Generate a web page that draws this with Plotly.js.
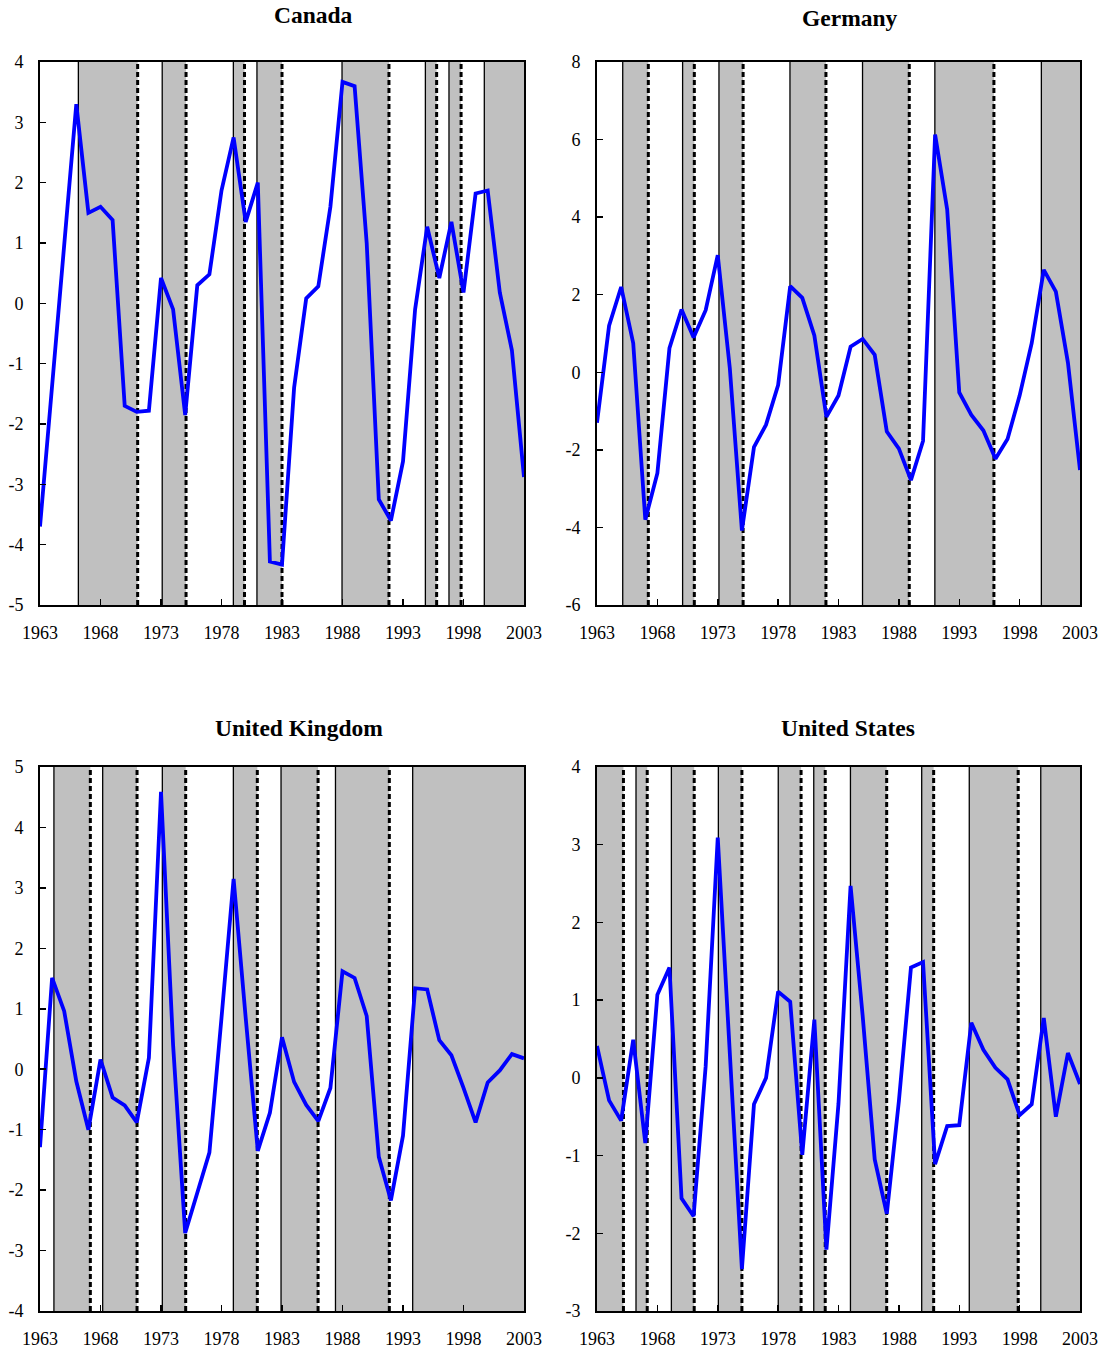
<!DOCTYPE html>
<html>
<head>
<meta charset="utf-8">
<script src="https://cdn.plot.ly/plotly-3.0.1.min.js"></script>
<style>html,body{margin:0;padding:0;background:#fff;}#chart{width:1104px;height:1352px;}</style>
</head>
<body>
<div id="chart"></div>
<script>
const years = [];
for (let y = 1963; y <= 2003; y++) years.push(y);
const xTicks = [1963, 1968, 1973, 1978, 1983, 1988, 1993, 1998, 2003];

const canadaValues = [-3.7, -1.4, 1.0, 3.3, 1.5, 1.6, 1.38, -1.7, -1.8, -1.78, 0.42, -0.1, -1.85, 0.3, 0.48, 1.87, 2.75, 1.35, 2.0, -4.28, -4.33, -1.4, 0.08, 0.28, 1.6, 3.67, 3.6, 1.0, -3.25, -3.6, -2.62, -0.1, 1.27, 0.42, 1.35, 0.18, 1.82, 1.87, 0.18, -0.78, -2.88];
const germanyValues = [-1.3, 1.2, 2.2, 0.75, -3.8, -2.6, 0.62, 1.62, 0.9, 1.6, 3.02, 0.1, -4.08, -1.93, -1.35, -0.33, 2.22, 1.92, 0.95, -1.15, -0.6, 0.66, 0.86, 0.45, -1.53, -1.97, -2.78, -1.77, 6.13, 4.2, -0.52, -1.1, -1.5, -2.23, -1.72, -0.6, 0.75, 2.64, 2.08, 0.25, -2.52];
const ukValues = [-1.29, 1.51, 0.96, -0.2, -1.0, 0.16, -0.47, -0.6, -0.88, 0.19, 4.59, 0.4, -2.71, -2.05, -1.38, 0.85, 3.15, 0.85, -1.35, -0.72, 0.53, -0.21, -0.59, -0.86, -0.31, 1.62, 1.51, 0.88, -1.45, -2.17, -1.1, 1.34, 1.32, 0.48, 0.23, -0.31, -0.88, -0.22, -0.02, 0.25, 0.18];
const usValues = [0.41, -0.29, -0.55, 0.49, -0.84, 1.07, 1.42, -1.55, -1.78, 0.15, 3.09, 0.4, -2.46, -0.34, 0.0, 1.11, 0.98, -0.99, 0.75, -2.21, -0.33, 2.47, 0.8, -1.05, -1.75, -0.3, 1.42, 1.49, -1.11, -0.62, -0.61, 0.71, 0.36, 0.13, -0.02, -0.48, -0.34, 0.77, -0.5, 0.32, -0.08];

// Shaded phases: from peak (solid line) to trough (dashed line); null = edge of chart
const canadaPeaks   = [1966.17, 1973.1, 1978.98, 1980.93, 1987.96, 1994.85, 1996.8, 1999.72];
const canadaTroughs = [1971.07, 1975.07, 1979.9, 1983.0, 1991.84, 1995.78, 1997.8, null];
const germanyPeaks   = [1965.13, 1970.09, 1973.1, 1978.98, 1984.99, 1990.98, 1999.8];
const germanyTroughs = [1967.25, 1971.06, 1975.1, 1981.96, 1988.86, 1995.87, null];
const ukPeaks   = [1964.15, 1968.18, 1973.11, 1978.98, 1982.92, 1987.42, 1993.8];
const ukTroughs = [1967.16, 1971.02, 1975.04, 1980.96, 1985.98, 1991.87, null];
const usPeaks   = [null, 1966.23, 1969.16, 1973.05, 1978.01, 1980.95, 1983.99, 1989.89, 1993.83, 1999.75];
const usTroughs = [1965.19, 1967.16, 1971.05, 1975.0, 1979.9, 1981.9, 1986.99, 1990.88, 1997.88, null];

const titles = ['Canada', 'Germany', 'United Kingdom', 'United States'];
const canadaYTicks = [-5, -4, -3, -2, -1, 0, 1, 2, 3, 4];
const germanyYTicks = [-6, -4, -2, 0, 2, 4, 6, 8];
const ukYTicks = [-4, -3, -2, -1, 0, 1, 2, 3, 4, 5];
const usYTicks = [-3, -2, -1, 0, 1, 2, 3, 4];

const W = 1104, H = 1352;
const panels = [
  {vals: canadaValues, peaks: canadaPeaks, troughs: canadaTroughs, yt: canadaYTicks, l: 40, r: 524, t: 62, b: 605, tx: 313, ty: 15},
  {vals: germanyValues, peaks: germanyPeaks, troughs: germanyTroughs, yt: germanyYTicks, l: 597, r: 1080, t: 62, b: 605, tx: 850, ty: 18},
  {vals: ukValues, peaks: ukPeaks, troughs: ukTroughs, yt: ukYTicks, l: 40, r: 524, t: 767, b: 1311, tx: 299, ty: 728},
  {vals: usValues, peaks: usPeaks, troughs: usTroughs, yt: usYTicks, l: 597, r: 1080, t: 767, b: 1311, tx: 848, ty: 728}
];

const font = {family: '"Liberation Serif", "Times New Roman", serif', size: 18, color: '#000'};
const data = [];
const shapes = [];
const annotations = [];
const layout = {
  width: W, height: H,
  margin: {l: 0, r: 0, t: 0, b: 0},
  paper_bgcolor: '#fff', plot_bgcolor: '#fff',
  showlegend: false,
  font: font
};

panels.forEach((p, i) => {
  const n = i + 1;
  const xa = 'x' + (n === 1 ? '' : n);
  const ya = 'y' + (n === 1 ? '' : n);
  const xKey = 'xaxis' + (n === 1 ? '' : n);
  const yKey = 'yaxis' + (n === 1 ? '' : n);
  layout[xKey] = {
    domain: [p.l / W, p.r / W], anchor: ya, range: [1963, 2003],
    tickmode: 'array', tickvals: xTicks, ticktext: xTicks.map(String),
    ticks: 'inside', ticklen: 6, tickwidth: 1.5, tickcolor: '#000',
    showline: true, linecolor: '#000', linewidth: 2, mirror: true,
    showgrid: false, zeroline: false, ticklabelstandoff: 10,
    tickfont: font, fixedrange: true
  };
  layout[yKey] = {
    domain: [1 - p.b / H, 1 - p.t / H], anchor: xa,
    range: [p.yt[0], p.yt[p.yt.length - 1]],
    tickmode: 'array', tickvals: p.yt, ticktext: p.yt.map(v => String(v)),
    ticks: 'inside', ticklen: 6, tickwidth: 1.5, tickcolor: '#000',
    showline: true, linecolor: '#000', linewidth: 2, mirror: true,
    showgrid: false, zeroline: false, ticklabelstandoff: 11,
    tickfont: font, fixedrange: true
  };
  // shaded bands
  p.peaks.forEach((pk, k) => {
    const x0 = pk === null ? 1963 : pk;
    const x1 = p.troughs[k] === null ? 2003 : p.troughs[k];
    shapes.push({type: 'rect', xref: xa, yref: ya + ' domain', x0: x0, x1: x1, y0: 0, y1: 1,
      fillcolor: '#c0c0c0', line: {width: 0}, layer: 'below'});
  });
  p.peaks.forEach((pk) => {
    if (pk !== null) shapes.push({type: 'line', xref: xa, yref: ya + ' domain', x0: pk, x1: pk, y0: 0, y1: 1,
      line: {color: '#000', width: 1.3}, layer: 'below'});
  });
  p.troughs.forEach((tr) => {
    if (tr !== null) shapes.push({type: 'line', xref: xa, yref: ya + ' domain', x0: tr, x1: tr, y0: 0, y1: 1,
      line: {color: '#000', width: 3, dash: '5px,3px'}, layer: 'below'});
  });
  data.push({x: years, y: p.vals, xaxis: xa, yaxis: ya, type: 'scatter', mode: 'lines',
    line: {color: '#0000ff', width: 3.8}, hoverinfo: 'skip'});
  annotations.push({text: '<b>' + titles[i] + '</b>', xref: 'paper', yref: 'paper',
    x: p.tx / W, y: 1 - p.ty / H, xanchor: 'center', yanchor: 'middle', showarrow: false,
    font: {family: font.family, size: 23.5, color: '#000'}});
});

layout.shapes = shapes;
layout.annotations = annotations;

Plotly.newPlot('chart', data, layout, {displayModeBar: false, staticPlot: true});
</script>
</body>
</html>
